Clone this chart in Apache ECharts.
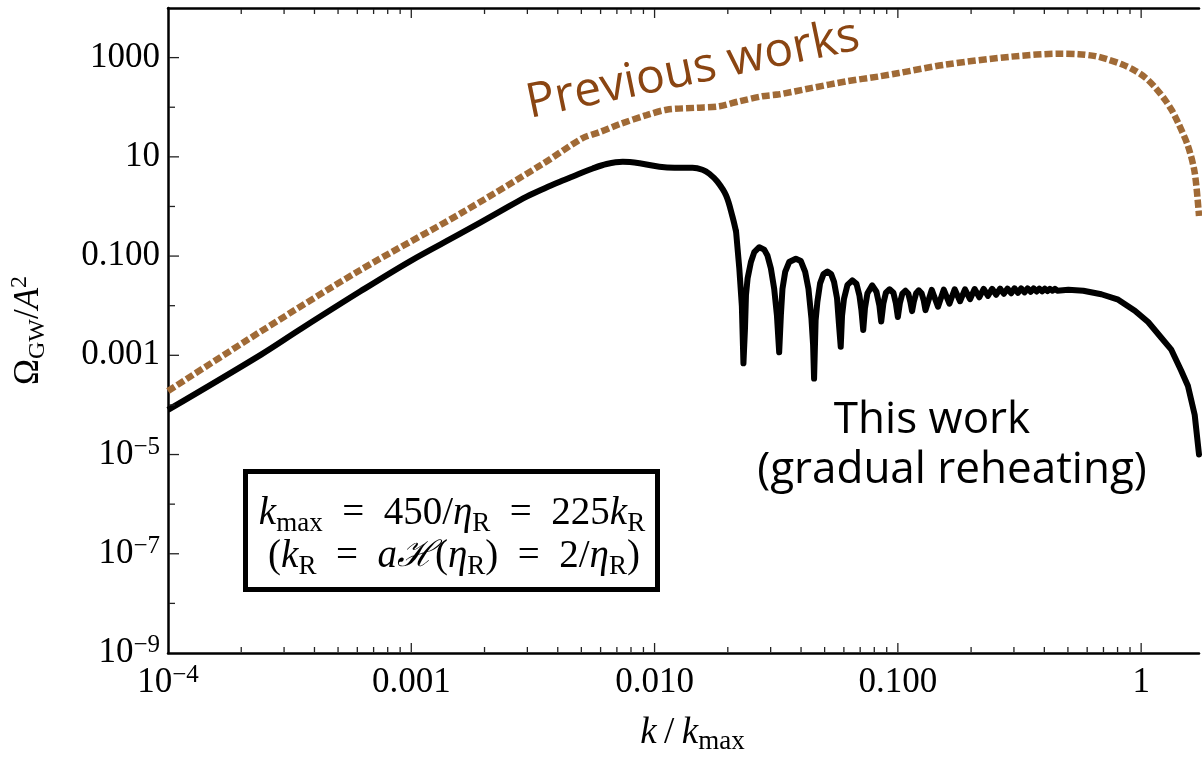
<!DOCTYPE html>
<html><head><meta charset="utf-8">
<script src="https://cdn.jsdelivr.net/npm/echarts@6/dist/echarts.min.js"></script>
<style>html,body{margin:0;padding:0;background:#fff}#c{width:1202px;height:760px}</style>
</head><body><div id="c"></div>
<script>
// ---- data ----
const thisWorkK = [1.0e-4, 2.404e-4, 3.51e-4, 6.18e-4, 9.91e-4, 1.589e-3, 2.317e-3, 2.98e-3, 3.54e-3, 4.08e-3, 4.61e-3, 5.57e-3, 6.35e-3, 7.40e-3, 8.68e-3, 0.01047, 0.01208, 0.01432, 0.01573, 0.01679, 0.01812, 0.01968, 0.02089, 0.02163, 0.02230, 0.02284, 0.02319,
  0.02353, 0.02375, 0.02412, 0.02489, 0.02569, 0.02693, 0.02823, 0.02912, 0.03007, 0.03102, 0.03183, 0.03252,
  0.03305, 0.03355, 0.03442, 0.03574, 0.03808, 0.03993, 0.04159, 0.04290, 0.04413, 0.04483, 0.04525,
  0.04591, 0.04669, 0.04790, 0.04951, 0.05131, 0.05314, 0.05466, 0.05623, 0.05730, 0.05823,
  0.05896, 0.06007, 0.06209, 0.06497, 0.06760, 0.06954, 0.07086, 0.07206,
  0.07324, 0.07499, 0.07845, 0.08164, 0.08398, 0.08543,
  0.08722, 0.08929, 0.09247, 0.09585, 0.09813, 0.1000,
  0.1019, 0.1043, 0.1075, 0.1104, 0.1125, 0.1144,
  0.1163, 0.1189, 0.1219, 0.1252, 0.1278, 0.1299,
  0.1378, 0.1462, 0.1544, 0.1629, 0.1712, 0.1801, 0.1888, 0.1980, 0.2068, 0.2162, 0.2252, 0.2347, 0.2440, 0.2536, 0.2631, 0.2727, 0.2824, 0.2922, 0.3017, 0.3118, 0.3214, 0.3315, 0.3414, 0.3515, 0.3613, 0.3717, 0.3816, 0.3917, 0.4018, 0.4122, 0.4220, 0.4326, 0.4424, 0.4525,
  0.5022, 0.5785, 0.6857, 0.8048, 0.9423, 1.0684, 1.2078, 1.3274, 1.4582, 1.5577, 1.6601, 1.729];
const thisWorkOmega = [7.94e-5, 1.023e-3, 3.39e-3, 0.0195, 0.0794, 0.282, 0.794, 1.58, 2.34, 3.16, 4.03, 5.82, 7.16, 7.94, 7.41, 6.31, 6.03, 6.03, 5.50, 4.57, 3.16, 1.66, 0.631, 0.309, 0.0562, 0.0100, 6.9e-4,
  3.47e-3, 0.0162, 0.0355, 0.0759, 0.120, 0.151, 0.135, 0.102, 0.0562, 0.0219, 0.00646, 0.00115,
  0.00646, 0.0219, 0.0479, 0.0759, 0.0885, 0.0794, 0.0479, 0.0219, 0.00550, 0.00162, 3.39e-4,
  0.00501, 0.0120, 0.0282, 0.0437, 0.0490, 0.0437, 0.0302, 0.0141, 0.00407, 0.00148,
  0.00631, 0.0138, 0.0263, 0.0324, 0.0275, 0.0158, 0.00794, 0.00324,
  0.00891, 0.0178, 0.0257, 0.0191, 0.0100, 0.00479,
  0.0112, 0.0182, 0.0214, 0.0182, 0.0112, 0.00589,
  0.0112, 0.0174, 0.0200, 0.0174, 0.0120, 0.00776,
  0.0120, 0.0178, 0.0204, 0.0178, 0.0126, 0.00813,
  0.0209, 0.00955, 0.0211, 0.01096, 0.0214, 0.0123, 0.0214, 0.0135, 0.0216, 0.0148, 0.0219, 0.0158, 0.0219, 0.0166, 0.0221, 0.0174, 0.0221, 0.0178, 0.0224, 0.0182, 0.0224, 0.0186, 0.0224, 0.0191, 0.0224, 0.0193, 0.0221, 0.0195, 0.0221, 0.0197, 0.0219, 0.0200, 0.0219, 0.0200,
  0.0209, 0.0200, 0.0170, 0.0132, 0.00794, 0.00468, 0.00229, 0.00132, 5.0e-4, 2.4e-4, 6.3e-5, 1.0e-5];
const previousK = [1.0e-4, 2.404e-4, 6.18e-4, 1.589e-3, 3.475e-3, 5.07e-3, 5.95e-3, 7.19e-3, 9.27e-3, 0.01120, 0.01486, 0.01847, 0.02231, 0.02771, 0.03252, 0.04441, 0.06121, 0.08357, 0.1010, 0.1573, 0.2932, 0.4699, 0.5519, 0.6479, 0.7325, 0.8279, 0.9273, 1.0385, 1.1413, 1.254, 1.340, 1.418, 1.5577, 1.6601, 1.729];
const previousOmega = [1.905e-4, 3.02e-3, 0.0525, 0.716, 7.24, 24.0, 31.6, 45.7, 69.2, 89.1, 97.7, 104.7, 131.8, 166, 182, 245, 331, 417, 490, 724, 1047, 1202, 1175, 1072, 912, 741, 575, 398, 251, 141, 85, 49, 16.6, 4.79, 0.646];

const xTickLabels = {'-4': '{b|10}{s|−4}', '-3': '{b|0.001}', '-2': '{b|0.010}', '-1': '{b|0.100}', '0': '{b|1}'};
const yTickLabels = {'-9': '{b|10}{s|−9}', '-7': '{b|10}{s|−7}', '-5': '{b|10}{s|−5}', '-3': '{b|0.001}', '-1': '{b|0.100}', '1': '{b|10}', '3': '{b|1000}'};
const xMajorTicks = [1e-3, 1e-2, 1e-1, 1];
const yMajorTicks = [1e-7, 1e-5, 1e-3, 1e-1, 10, 1000];
const yMinorTicks = [1e-8, 1e-6, 1e-4, 1e-2, 1, 100];

const X_MIN = 1e-4, X_MAX = 1.729, Y_MIN = 1e-9, Y_MAX = 1e4;
const SMOOTH_END_K = 0.02163; // smooth rising part ends here; oscillating part is drawn point-to-point
const xMinorTicks = [];
[1e-4, 1e-3, 1e-2, 1e-1].forEach(d => [2,3,4,5,6,7,8,9].forEach(m => xMinorTicks.push(d * m)));

const SERIF = "'Liberation Serif', 'DejaVu Serif', serif";
const SANS = "'Open Sans', 'Noto Sans', sans-serif";
const labelRich = {
  b: {fontFamily: SERIF, fontSize: 35, lineHeight: 40, color: '#000'},
  s: {fontFamily: SERIF, fontSize: 25, lineHeight: 24, verticalAlign: 'top', color: '#000'}
};
function expKey(v) {
  const e = Math.log10(v), r = Math.round(e);
  return Math.abs(e - r) < 1e-6 ? String(r) : null;
}
function mathRich(size, sub) {
  return {
    i: {fontFamily: SERIF, fontStyle: 'italic', fontSize: size, lineHeight: size + 7, color: '#000', fill: '#000'},
    r: {fontFamily: SERIF, fontSize: size, lineHeight: size + 7, color: '#000', fill: '#000'},
    h: {fontFamily: "'DejaVu Serif', serif", fontStyle: 'italic', fontSize: size - 3, lineHeight: size + 7, color: '#000', fill: '#000'},
    sub: {fontFamily: SERIF, fontSize: sub, lineHeight: sub, verticalAlign: 'bottom', color: '#000', fill: '#000'},
    sup: {fontFamily: SERIF, fontSize: sub, lineHeight: sub, verticalAlign: 'top', color: '#000', fill: '#000'}
  };
}

const thisWorkPts = thisWorkK.map((k, i) => [k, thisWorkOmega[i]]);
const thisWorkRise = thisWorkPts.filter(p => p[0] <= SMOOTH_END_K);
const thisWorkOsc = thisWorkPts.filter(p => p[0] >= SMOOTH_END_K);

const chart = echarts.init(document.getElementById('c'), null, {renderer: 'canvas'});
const tickStyle = {stroke: '#222', lineWidth: 1.3};

const option = {
  animation: false,
  backgroundColor: '#fff',
  grid: {left: 167, right: 1, top: 8, bottom: 104, containLabel: false},
  xAxis: [{
    type: 'log', logBase: 10, min: X_MIN, max: X_MAX, interval: 1, position: 'bottom',
    axisLine: {lineStyle: {color: '#000', width: 2.5}},
    axisTick: {show: false}, splitLine: {show: false}, minorTick: {show: false},
    axisLabel: {margin: 10, rich: labelRich, formatter: v => { const k = expKey(v); return k !== null && xTickLabels[k] ? xTickLabels[k] : ''; }},
    name: '{i|k}{r|\u2009/\u2009}{i|k}{sub|max}', nameLocation: 'middle', nameGap: 58,
    nameTextStyle: {padding: [0, 0, 0, 18], rich: mathRich(37, 27)}
  }, {
    type: 'log', logBase: 10, min: X_MIN, max: X_MAX, position: 'top',
    axisLine: {lineStyle: {color: '#000', width: 2.5}},
    axisTick: {show: false}, axisLabel: {show: false}, splitLine: {show: false}
  }],
  yAxis: [{
    type: 'log', logBase: 10, min: Y_MIN, max: Y_MAX, interval: 1, splitNumber: 13, position: 'left',
    axisLine: {lineStyle: {color: '#000', width: 2.5}},
    axisTick: {show: false}, splitLine: {show: false}, minorTick: {show: false},
    axisLabel: {margin: 8, rich: labelRich, formatter: v => { const k = expKey(v); return k !== null && yTickLabels[k] ? yTickLabels[k] : ''; }},
    name: '{r|Ω}{sub|GW}{r|/}{i|A}{sup|2}', nameLocation: 'middle', nameGap: 118,
    nameTextStyle: {rich: mathRich(35, 24)}
  }],
  series: [
    {
      name: 'Previous works', type: 'line', xAxisIndex: 0, yAxisIndex: 0,
      data: previousK.map((k, i) => [k, previousOmega[i]]),
      showSymbol: false, smooth: 0.3, z: 2,
      lineStyle: {color: '#a06a36', width: 6.5, type: [8, 3], cap: 'butt'}
    },
    {
      name: 'This work', type: 'line', xAxisIndex: 0, yAxisIndex: 0,
      data: thisWorkRise, showSymbol: false, smooth: 0.35, z: 3,
      lineStyle: {color: '#000', width: 6, join: 'round', cap: 'butt'}
    },
    {
      name: 'This work', type: 'line', xAxisIndex: 0, yAxisIndex: 0,
      data: thisWorkOsc, showSymbol: false, smooth: false, z: 3,
      lineStyle: {color: '#000', width: 6, join: 'round', cap: 'round'}
    },
    {
      type: 'custom', xAxisIndex: 0, yAxisIndex: 0, silent: true, clip: false, z: 5,
      data: xMajorTicks.map(v => [v, 1, 9]).concat(xMinorTicks.map(v => [v, 1, 5])),
      encode: {x: 0, y: 1},
      renderItem: (params, api) => {
        const v = api.value(0), len = api.value(2);
        const b = api.coord([v, Y_MIN]), t = api.coord([v, Y_MAX]);
        return {type: 'group', children: [
          {type: 'line', shape: {x1: b[0], y1: b[1] - 1, x2: b[0], y2: b[1] - 1 - len}, style: tickStyle},
          {type: 'line', shape: {x1: t[0], y1: t[1] + 1, x2: t[0], y2: t[1] + 1 + len}, style: tickStyle}
        ]};
      }
    },
    {
      type: 'custom', xAxisIndex: 0, yAxisIndex: 0, silent: true, clip: false, z: 5,
      data: yMajorTicks.map(v => [X_MIN, v, 10]).concat(yMinorTicks.map(v => [X_MIN, v, 6])),
      encode: {x: 0, y: 1},
      renderItem: (params, api) => {
        const v = api.value(1), len = api.value(2);
        const p = api.coord([X_MIN, v]);
        return {type: 'line', shape: {x1: p[0] + 1, y1: p[1], x2: p[0] + 1 + len, y2: p[1]}, style: tickStyle};
      }
    }
  ],
  graphic: [
    {type: 'text', x: 693, y: 70, rotation: 0.205, z: 10,
     style: {text: 'Previous works', fill: '#8a4512', font: '48px ' + SANS, align: 'center', verticalAlign: 'middle', textAlign: 'center', textVerticalAlign: 'middle'}},
    {type: 'text', x: 932, y: 420, z: 10,
     style: {text: 'This work', fill: '#000', font: '44px ' + SANS, align: 'center', verticalAlign: 'middle', textAlign: 'center', textVerticalAlign: 'middle'}},
    {type: 'text', x: 952, y: 470, z: 10,
     style: {text: '(gradual reheating)', fill: '#000', font: '44px ' + SANS, align: 'center', verticalAlign: 'middle', textAlign: 'center', textVerticalAlign: 'middle'}},
    {type: 'rect', z: 10, shape: {x: 245.5, y: 471.5, width: 412, height: 118},
     style: {fill: '#fff', stroke: '#000', lineWidth: 5}},
    {type: 'text', x: 452, y: 514, z: 11,
     style: {text: '{i|k}{sub|max}{r|\u2002=\u2002450/}{i|η}{sub|R}{r|\u2002=\u2002225}{i|k}{sub|R}', align: 'center', verticalAlign: 'middle', textAlign: 'center', textVerticalAlign: 'middle',
       rich: mathRich(39, 27)}},
    {type: 'text', x: 454, y: 557, z: 11,
     style: {text: '{r|(}{i|k}{sub|R}{r|\u2002=\u2002}{i|a}{h|ℋ}{r|(}{i|η}{sub|R}{r|)\u2002=\u20022/}{i|η}{sub|R}{r|)}', align: 'center', verticalAlign: 'middle', textAlign: 'center', textVerticalAlign: 'middle',
       rich: mathRich(39, 27)}}
  ]
};
chart.setOption(option);
</script>
</body></html>
